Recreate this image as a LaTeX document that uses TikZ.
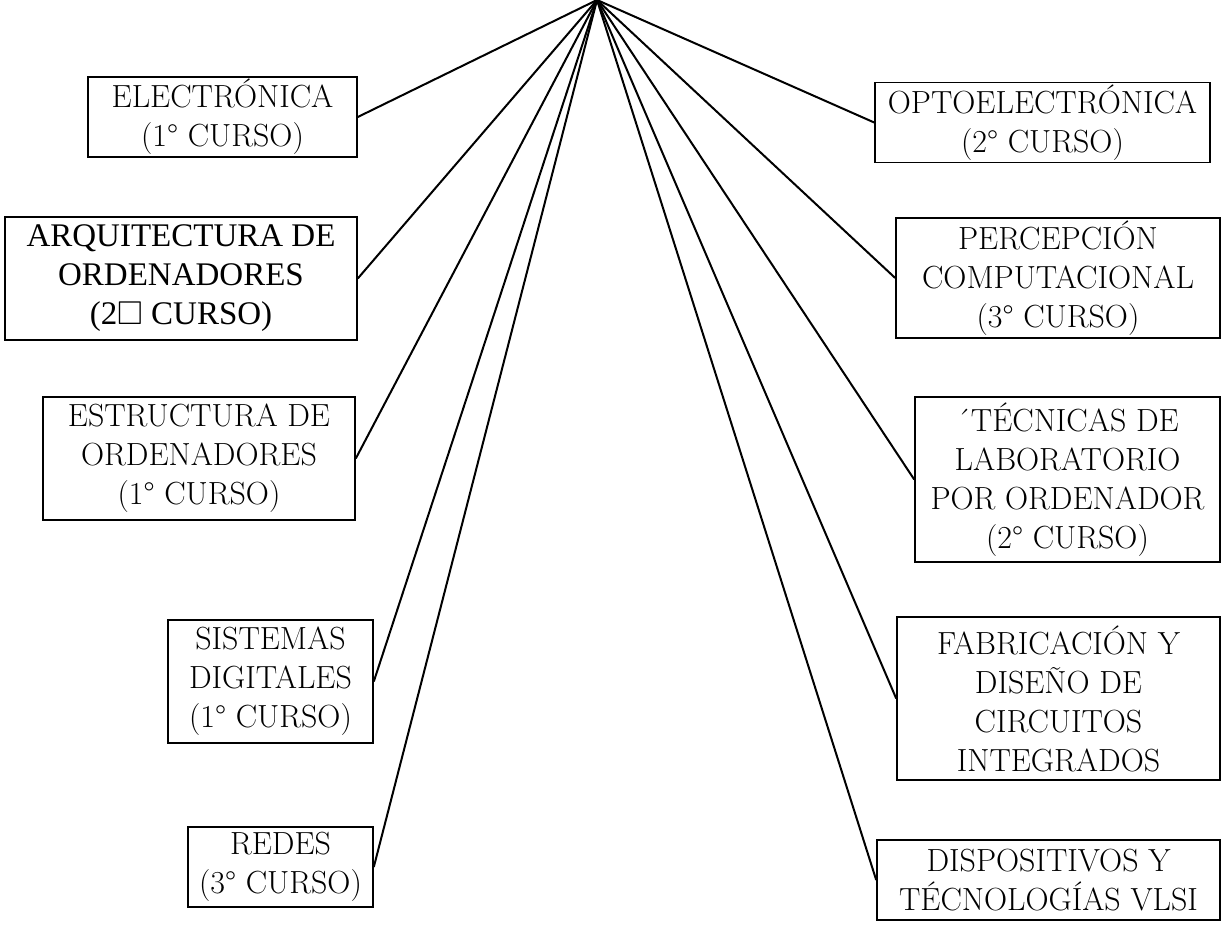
\documentclass[tikz,border=0pt]{standalone}
\usepackage{amssymb}
\usepackage{fontspec}
\usepackage{tikz}
\newfontfamily\timesfont{Liberation Serif}
\tikzset{
  px/.style={x=0.5pt, y=-0.5pt},
  s box/.style={draw, line width=0.8pt, align=center, inner sep=1pt, font=\fontsize{16}{19.5}\selectfont},
  s times/.style={s box, font=\fontsize{16.5}{19.5}\selectfont\timesfont},
  s link/.style={line width=1pt},
}
\begin{document}
\begin{tikzpicture}[px]
\useasboundingbox (0,0) rectangle (1222,930);
\coordinate (top) at (597,0);
% left column
\node[s box, minimum width=134.5pt, minimum height=40pt] (elec) at (222.5,117) {ELECTRÓNICA\\(1° CURSO)};
\node[s times, minimum width=176pt, minimum height=61.5pt] (arq) at (181,278.5) {ARQUITECTURA DE\\ORDENADORES\\(2$\square$ CURSO)};
\node[s box, minimum width=156pt, minimum height=61.5pt] (estr) at (199,458.5) {ESTRUCTURA DE\\ORDENADORES\\(1° CURSO)};
\node[s box, minimum width=102.5pt, minimum height=61.5pt] (sist) at (270.5,681.5) {SISTEMAS\\DIGITALES\\(1° CURSO)};
\node[s box, minimum width=92.5pt, minimum height=40pt] (redes) at (280.5,867) {REDES\\(3° CURSO)};
% right column
\node[s box, minimum width=167.5pt, minimum height=39.5pt] (opto) at (1042.5,122.5) {OPTOELECTRÓNICA\\(2° CURSO)};
\node[s box, minimum width=162pt, minimum height=60pt] (perc) at (1058,278) {PERCEPCIÓN\\COMPUTACIONAL\\(3° CURSO)};
\node[s box, minimum width=152.5pt, minimum height=82.5pt] (tecn) at (1067.5,479.5) {´TÉCNICAS DE\\LABORATORIO\\POR ORDENADOR\\(2° CURSO)};
\node[s box, minimum width=161.5pt, minimum height=81.5pt] (fabr) at (1058.5,698.5) {FABRICACIÓN Y\\DISEÑO DE\\CIRCUITOS\\INTEGRADOS};
\node[s box, minimum width=171.5pt, minimum height=40pt] (disp) at (1048.5,880) {DISPOSITIVOS Y\\TÉCNOLOGÍAS VLSI};
\draw[s link] (top) -- (elec.east); \draw[s link] (top) -- (arq.east); \draw[s link] (top) -- (estr.east);
\draw[s link] (top) -- (sist.east); \draw[s link] (top) -- (redes.east);
\draw[s link] (top) -- (opto.west); \draw[s link] (top) -- (perc.west); \draw[s link] (top) -- (tecn.west);
\draw[s link] (top) -- (fabr.west); \draw[s link] (top) -- (disp.west);
\end{tikzpicture}
\end{document}
